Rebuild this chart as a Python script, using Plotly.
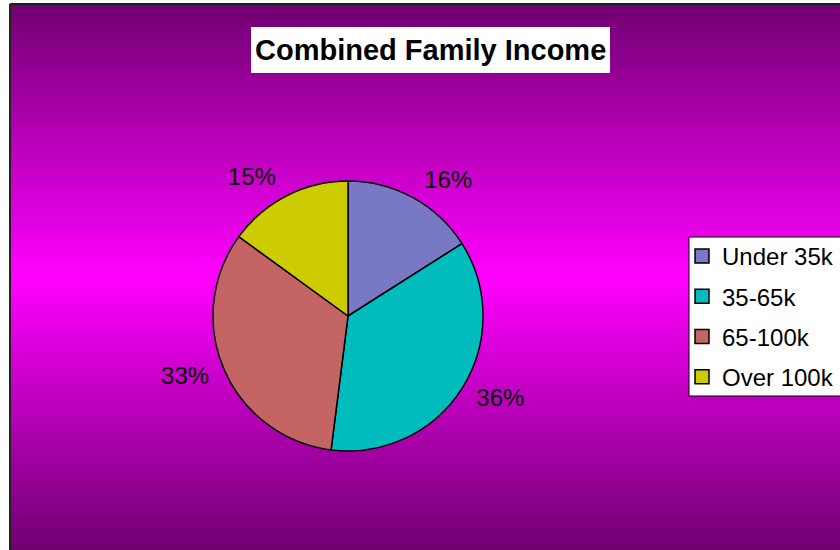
import plotly.graph_objects as go

# ---- data ----
categories = ["Under 35k", "35-65k", "65-100k", "Over 100k"]
values = [16, 36, 33, 15]
slice_colors = ["#7878c4", "#00bcbc", "#c46464", "#cccc00"]
title_text = "Combined Family Income"

W, H = 840, 550
CX, CY, R = 348, 316, 135
RL = 144  # radius used for placing the outside percent labels

fig = go.Figure()

# slices
fig.add_trace(go.Pie(
    labels=categories,
    values=values,
    sort=False,
    direction="clockwise",
    rotation=0,
    marker=dict(colors=slice_colors, line=dict(color="black", width=1.5)),
    textinfo="none",
    showlegend=False,
    domain=dict(x=[(CX - R) / W, (CX + R) / W],
                y=[1 - (CY + R) / H, 1 - (CY - R) / H]),
    hoverinfo="label+percent",
))

# percent labels (transparent companion pie, slightly larger)
fig.add_trace(go.Pie(
    labels=categories,
    values=values,
    sort=False,
    direction="clockwise",
    rotation=0,
    marker=dict(colors=["rgba(0,0,0,0)"] * len(values), line=dict(width=0)),
    texttemplate="%{percent:.0%}",
    textposition="outside",
    outsidetextfont=dict(family="Liberation Sans, Arial", size=24, color="black"),
    showlegend=False,
    hoverinfo="skip",
    domain=dict(x=[(CX - RL) / W, (CX + RL) / W],
                y=[1 - (CY + RL) / H, 1 - (CY - RL) / H]),
))

# legend entries (one per category, drawn as square swatches)
for name, col in zip(categories, slice_colors):
    fig.add_trace(go.Scatter(
        x=[None], y=[None], mode="markers", name=name, legendgroup=name,
        marker=dict(symbol="square", size=14, color=col,
                    line=dict(color="black", width=1.5)),
    ))

# background gradient bands
shapes = []
top, bottom = 4, 550
n = 110
mid = (top + bottom) / 2
half = (bottom - top) / 2
dark, bright = 112, 255
for i in range(n):
    y0 = top + (bottom - top) * i / n
    y1 = top + (bottom - top) * (i + 1) / n
    yc = (y0 + y1) / 2
    t = 1 - abs(yc - mid) / half
    v = int(round(dark + (bright - dark) * t))
    col = f"rgb({v},0,{v})"
    shapes.append(dict(type="rect", xref="paper", yref="paper",
                       x0=10 / W, x1=1.0, y0=max(0, 1 - (y1 + 3) / H), y1=1 - y0 / H,
                       fillcolor=col, line=dict(width=0), layer="below"))
# chart border (left & top)
shapes.append(dict(type="line", xref="paper", yref="paper",
                   x0=10 / W, x1=10 / W, y0=0, y1=1 - 4 / H,
                   line=dict(color="#202020", width=2), layer="below"))
shapes.append(dict(type="line", xref="paper", yref="paper",
                   x0=10 / W, x1=1, y0=1 - 4 / H, y1=1 - 4 / H,
                   line=dict(color="#202020", width=2), layer="below"))
# legend box
shapes.append(dict(type="rect", xref="paper", yref="paper",
                   x0=689 / W, x1=1.01, y0=1 - 396 / H, y1=1 - 237 / H,
                   fillcolor="white", line=dict(color="black", width=1), layer="below"))
# title box
shapes.append(dict(type="rect", xref="paper", yref="paper",
                   x0=251 / W, x1=610 / W, y0=1 - 73 / H, y1=1 - 27 / H,
                   fillcolor="white", line=dict(width=0), layer="below"))

fig.update_layout(
    width=W, height=H,
    margin=dict(l=0, r=0, t=0, b=0),
    paper_bgcolor="white",
    plot_bgcolor="rgba(0,0,0,0)",
    shapes=shapes,
    xaxis=dict(visible=False),
    yaxis=dict(visible=False),
    showlegend=True,
    legend=dict(
        x=(722 - 40) / W, xanchor="left",
        y=1 - 234 / H, yanchor="top",
        bgcolor="rgba(0,0,0,0)",
        borderwidth=0,
        font=dict(family="Liberation Sans, Arial", size=24, color="black"),
        tracegroupgap=6,
        itemsizing="trace",
    ),
    annotations=[dict(
        text=f"<b>{title_text}</b>", xref="paper", yref="paper",
        x=430.5 / W, y=1 - 50 / H, xanchor="center", yanchor="middle",
        showarrow=False,
        font=dict(family="Liberation Sans, Arial", size=29, color="black"),
    )],
)

fig.write_html("out.html",
               config={"displayModeBar": False},
               post_script="document.body.style.margin='0';document.body.style.overflow='hidden';")
